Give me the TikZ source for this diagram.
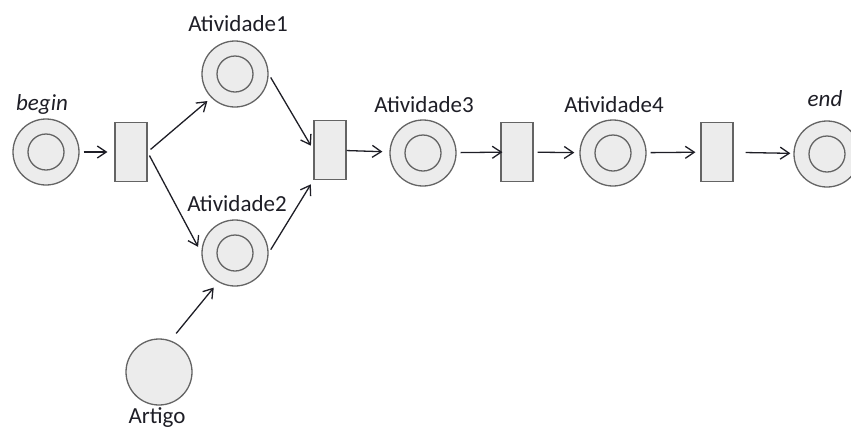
\documentclass[tikz,border=0pt]{standalone}
\usepackage{fontspec}
\setmainfont{Carlito}
\usetikzlibrary{arrows.meta}
\definecolor{ink}{RGB}{30,30,38}
\definecolor{rim}{RGB}{100,100,100}
\definecolor{paper}{RGB}{236,236,236}
\tikzset{
  >={Straight Barb[length=9pt,width=12pt,line width=1.3pt]},
  place/.style={circle,draw=rim,fill=paper,line width=1.3pt,minimum size=66pt,inner sep=0pt},
  marked/.style={place,path picture={\draw[rim,line width=1.3pt] (path picture bounding box.center) circle (18pt);}},
  trans/.style={rectangle,draw=rim,fill=paper,line width=1.1pt,minimum width=32pt,minimum height=59pt,inner sep=0pt},
  flow/.style={->,line width=1.3pt,draw=ink,shorten <=4pt,shorten >=5pt},
  tag/.style={font=\fontsize{23}{27}\selectfont,text=ink},
}
\begin{document}
\begin{tikzpicture}[x=1pt,y=-1pt]
  \useasboundingbox (0,0) rectangle (851,432);
  % places
  \node[marked] (begin) at (46,152) {};
  \node[marked] (a1) at (235,74) {};
  \node[marked] (a2) at (235,253) {};
  \node[place] (artigo) at (159,372) {};
  \node[marked] (a3) at (423,153) {};
  \node[marked] (a4) at (613,153) {};
  \node[marked] (end) at (827,154) {};
  % transitions
  \node[trans] (t1) at (131,152) {};
  \node[trans] (t2) at (330,150) {};
  \node[trans] (t3) at (517,152) {};
  \node[trans] (t4) at (717,152) {};
  % labels
  \node[tag,font=\fontsize{23}{27}\selectfont\itshape] (l-begin) at (42,104) {begin};
  \node[tag] (l-a1) at (238,24) {Atividade1};
  \node[tag] (l-a2) at (237,204) {Atividade2};
  \node[tag] (l-a3) at (424,105) {Atividade3};
  \node[tag] (l-a4) at (614,105) {Atividade4};
  \node[tag,font=\fontsize{23}{27}\selectfont\itshape] (l-end) at (825,99) {end};
  \node[tag] (l-artigo) at (157,418) {Artigo};
  % arcs
  \draw[flow,shorten >=7pt] (begin) -- (t1);
  \draw[flow] (t1.east) -- (a1.south west);
  \draw[flow,shorten >=7pt] (t1.east) -- (a2.west);
  \draw[flow] (a1.east) -- (t2.west);
  \draw[flow] (a2.east) -- (t2.south west);
  \draw[flow,shorten <=9pt,shorten >=7pt] (artigo.70) -- (a2.240);
  \draw[flow,shorten <=0pt,shorten >=7pt] (t2) -- (a3);
  \draw[flow,shorten >=-2pt] (a3) -- (t3);
  \draw[flow] (t3) -- (a4);
  \draw[flow] (a4) -- (t4);
  \draw[flow,shorten <=12pt,shorten >=3pt] (t4) -- (end);
\end{tikzpicture}
\end{document}
